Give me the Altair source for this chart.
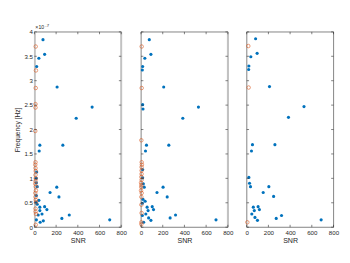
import altair as alt
import pandas as pd

# ---------------- data (frequency in units of 1e-7 Hz) ----------------
p1_blue_snr = [79, 94, 41, 21, 209, 532, 385, 50, 262, 44, 21, 18, 18, 26, 206, 144, 226, 18, 41, 15, 26, 50, 94, 50, 115, 35, 70, 253, 321, 694, 18, 82, 53]
p1_blue_f = [3.84, 3.54, 3.46, 3.29, 2.87, 2.46, 2.23, 1.68, 1.68, 1.56, 1.13, 1.00, 0.91, 0.83, 0.82, 0.71, 0.62, 0.65, 0.55, 0.51, 0.47, 0.41, 0.42, 0.34, 0.36, 0.25, 0.27, 0.18, 0.25, 0.15, 0.15, 0.13, 0.10]
p1_or_snr = [12, 14, 12, 10, 10, 8, 10, 8, 10, 12, 10, 12, 10, 8, 12, 14, 8, 10, 12, 14, 10, 10, 14, 12]
p1_or_f = [3.70, 3.21, 2.85, 2.52, 2.45, 1.97, 1.33, 1.28, 1.21, 1.15, 1.07, 1.00, 0.94, 0.89, 0.83, 0.75, 0.70, 0.62, 0.56, 0.51, 0.38, 0.32, 0.27, 0.05]

p2_blue_snr = [76, 91, 35, 15, 12, 209, 15, 18, 529, 385, 50, 256, 41, 15, 15, 21, 29, 203, 147, 241, 18, 38, 12, 56, 103, 65, 115, 44, 268, 318, 691, 12, 70, 91, 24]
p2_blue_f = [3.84, 3.54, 3.46, 3.29, 3.22, 2.87, 2.51, 2.42, 2.46, 2.23, 1.68, 1.68, 1.56, 1.18, 1.01, 0.89, 0.82, 0.82, 0.71, 0.62, 0.57, 0.53, 0.49, 0.41, 0.42, 0.34, 0.36, 0.27, 0.19, 0.25, 0.15, 0.24, 0.19, 0.14, 0.10]
p2_or_snr = [6, 6, 3, 6, 8, 5, 5, 5, 3, 5, 0, 3, 2, 0, 6, 3, 3, 5, 3, 3]
p2_or_f = [3.70, 2.85, 1.78, 1.33, 1.28, 1.23, 1.16, 1.09, 1.03, 0.97, 0.91, 0.86, 0.82, 0.75, 0.70, 0.62, 0.46, 0.29, 0.10, 0.06]

p3_blue_snr = [82, 96, 38, 20, 18, 210, 528, 385, 53, 260, 44, 20, 26, 35, 204, 152, 248, 61, 105, 70, 117, 47, 76, 272, 321, 686, 99]
p3_blue_f = [3.86, 3.56, 3.49, 3.30, 3.23, 2.88, 2.47, 2.25, 1.69, 1.69, 1.56, 1.02, 0.90, 0.83, 0.83, 0.71, 0.63, 0.41, 0.42, 0.34, 0.36, 0.27, 0.20, 0.18, 0.24, 0.15, 0.14]
p3_or_snr = [15, 18, 6]
p3_or_f = [3.71, 2.86, 0.10]

x_ticks = [0, 200, 400, 600, 800]
y_ticks = [0, 0.5, 1, 1.5, 2, 2.5, 3, 3.5, 4]

# ---------------- style ----------------
W, H = 92, 207
BLUE = "#0072BD"
ORANGE = "#D95319"
AXC = "#262626"
EDGE = "#c2c2c2"
FONT = "Liberation Sans"
TL = 2.5

xscale = alt.Scale(domain=[0, 800], nice=False, zero=False)
yscale = alt.Scale(domain=[0, 4], nice=False, zero=False)

XAXIS = alt.Axis(values=x_ticks, title="SNR", ticks=False, domain=False, grid=False,
                 labelFlush=False, labelOverlap=False, labelFontSize=6.5, titleFontSize=7.5,
                 labelPadding=2.5, titlePadding=1.5, titleFontWeight="normal")
YAXIS = alt.Axis(values=y_ticks, title="Frequency [Hz]", ticks=False, domain=False,
                 grid=False, format="~g", labelFontSize=6.5, titleFontSize=7,
                 labelOverlap=False, labelPadding=2, titlePadding=4,
                 titleFontWeight="normal")


def panel(bs, bf, os_, of, show_y, grey_edges):
    yaxis = YAXIS if show_y else None
    X = lambda: alt.X("snr:Q", scale=xscale, axis=XAXIS)
    Y = lambda: alt.Y("freq:Q", scale=yscale, axis=yaxis)
    blue = alt.Chart(pd.DataFrame({"snr": bs, "freq": bf})).mark_circle(
        color=BLUE, opacity=1, size=11
    ).encode(x=X(), y=Y())
    orange = alt.Chart(pd.DataFrame({"snr": os_, "freq": of})).mark_point(
        color=ORANGE, filled=False, size=14, strokeWidth=0.6, opacity=1
    ).encode(x=X(), y=Y())
    ydf = pd.DataFrame({"freq": y_ticks})
    xdf = pd.DataFrame({"snr": x_ticks})
    yl = alt.Chart(ydf).mark_rule(color=AXC, strokeWidth=0.6).encode(
        y=Y(), x=alt.value(0), x2=alt.value(TL))
    yr = alt.Chart(ydf).mark_rule(color=AXC, strokeWidth=0.6).encode(
        y=Y(), x=alt.value(W), x2=alt.value(W - TL))
    xb = alt.Chart(xdf).mark_rule(color=AXC, strokeWidth=0.6).encode(
        x=X(), y=alt.value(H), y2=alt.value(H - TL))
    xt = alt.Chart(xdf).mark_rule(color=AXC, strokeWidth=0.6).encode(
        x=X(), y=alt.value(0), y2=alt.value(TL))
    layers = []
    for ex in grey_edges:
        layers.append(alt.Chart(pd.DataFrame({"a": [0]})).mark_rule(
            color=EDGE, strokeWidth=2).encode(
            x=alt.value(ex), y=alt.value(0), y2=alt.value(H)))
    layers += [blue, orange, yl, yr, xb, xt]
    if show_y:
        t1 = alt.Chart(pd.DataFrame({"a": [0]})).mark_text(
            align="left", baseline="alphabetic", fontSize=5.5, font=FONT, color=AXC
        ).encode(x=alt.value(1), y=alt.value(-3), text=alt.value("×10"))
        t2 = alt.Chart(pd.DataFrame({"a": [0]})).mark_text(
            align="left", baseline="alphabetic", fontSize=4.5, font=FONT, color=AXC
        ).encode(x=alt.value(11.5), y=alt.value(-5.5), text=alt.value("-7"))
        layers += [t1, t2]
    return alt.layer(*layers).properties(width=W, height=H)


chart = alt.hconcat(
    panel(p1_blue_snr, p1_blue_f, p1_or_snr, p1_or_f, True, [0.5, W]),
    panel(p2_blue_snr, p2_blue_f, p2_or_snr, p2_or_f, False, [W]),
    panel(p3_blue_snr, p3_blue_f, p3_or_snr, p3_or_f, False, []),
    spacing=11,
).properties(padding={"left": 5, "top": 8, "right": 3, "bottom": 0}).configure_view(
    stroke=AXC, strokeWidth=0.6
).configure_axis(
    labelFont=FONT, titleFont=FONT, labelColor=AXC, titleColor=AXC
).configure_axisX(labelOverlap=False)

chart.save("out.html", embed_options={"renderer": "svg", "actions": False})
